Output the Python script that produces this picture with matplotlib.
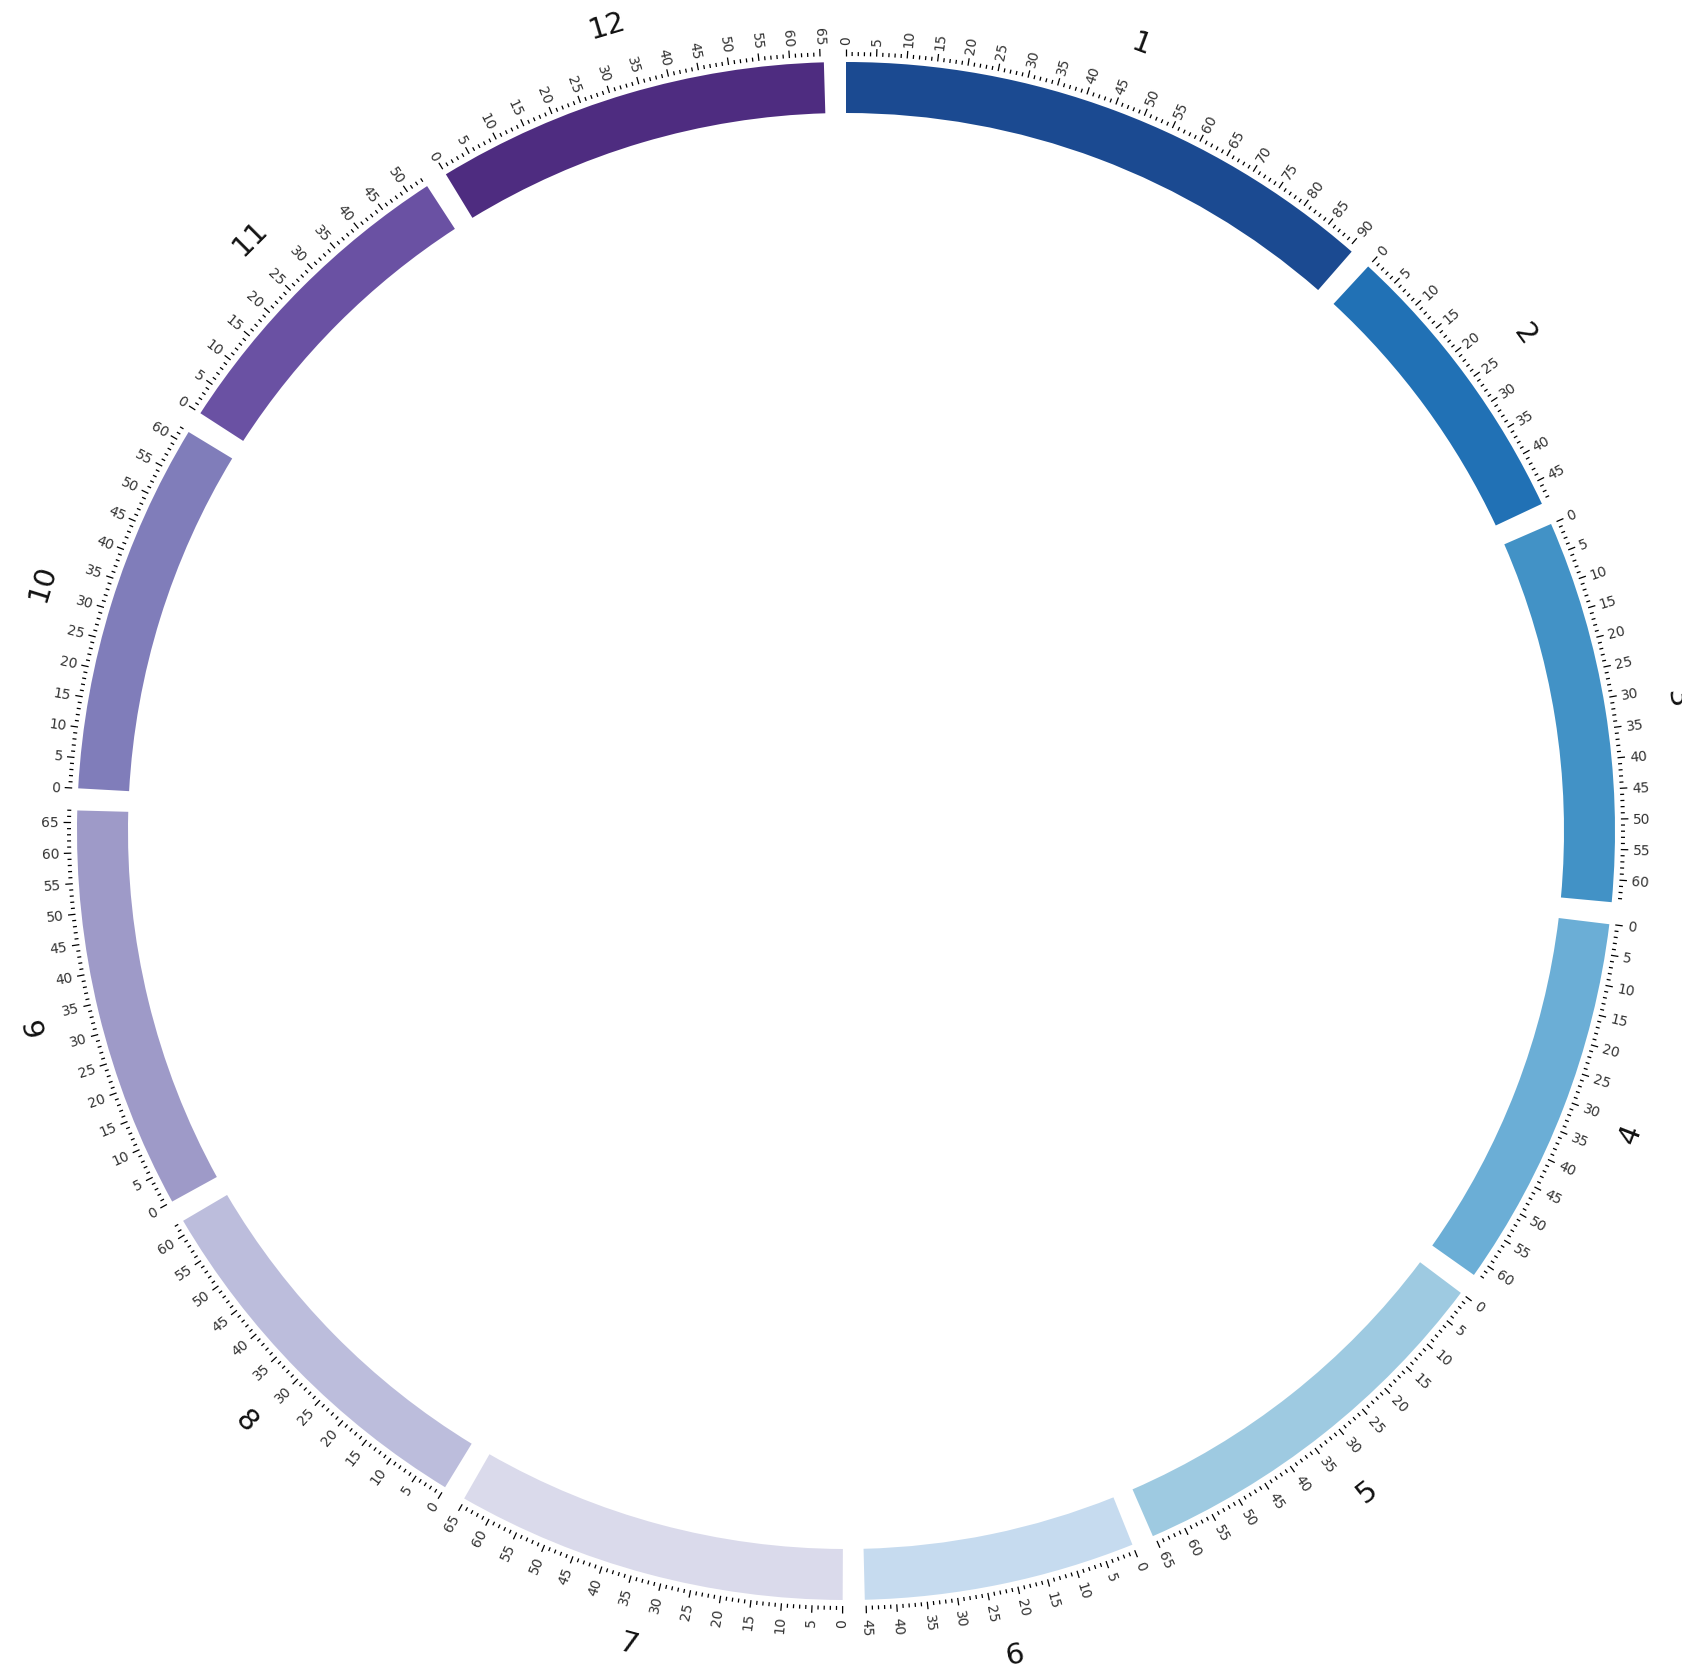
import numpy as np
import matplotlib
matplotlib.use("Agg")
import matplotlib.pyplot as plt

# chromosome names, sizes (in tick units) and colours
chrom_names = ["1", "2", "3", "4", "5", "6", "7", "8", "9", "10", "11", "12"]
chrom_sizes = [90.8, 48.7, 63.7, 62.5, 65.3, 45.2, 65.2, 62.1, 67.0, 62.0, 53.2, 65.6]
chrom_colors = ["#1b4a91", "#2171b5", "#4292c6", "#6baed6", "#9ecae1", "#c6dbef",
                "#dadaeb", "#bcbddc", "#9e9ac8", "#807dba", "#6a51a3", "#4e2c80"]

W, H = 1683, 1674
cx, cy = 846, 832          # centre of the circle, pixels from top-left
rmax = 900                 # data units == pixels

r_in, r_out = 718, 769
tick_r0, tick_minor, tick_major = 775, 779, 782.5
ticklabel_r = 787
name_r = 841
gap = np.deg2rad(1.65)

fig = plt.figure(figsize=(W / 100, H / 100), dpi=100)
ax = fig.add_axes([(cx - rmax) / W, (H - cy - rmax) / H, 2 * rmax / W, 2 * rmax / H],
                  polar=True)
ax.set_theta_zero_location("N")
ax.set_theta_direction(-1)
ax.set_ylim(0, rmax)
ax.axis("off")

unit = (2 * np.pi - gap * len(chrom_sizes)) / sum(chrom_sizes)

start = 0.0
for name, size, col in zip(chrom_names, chrom_sizes, chrom_colors):
    span = size * unit
    mid = start + span / 2
    ax.bar(mid, r_out - r_in, width=span, bottom=r_in, color=col, linewidth=0)

    # ticks every unit, longer every 5
    pos = np.arange(0, int(np.floor(size)) + 1)
    th = start + pos * unit
    major = pos % 5 == 0
    ax.vlines(th[~major], tick_r0, tick_minor, color="black", lw=0.9)
    ax.vlines(th[major], tick_r0, tick_major, color="black", lw=0.9)

    for p, t in zip(pos[major], th[major]):
        deg = np.degrees(t) % 360
        if deg <= 180:
            rot, ha = 90 - deg, "left"
        else:
            rot, ha = 270 - deg, "right"
        ax.text(t, ticklabel_r, str(p), rotation=rot, rotation_mode="anchor",
                ha=ha, va="center", fontsize=10, color="#333333")

    deg = np.degrees(mid) % 360
    if 90 < deg < 270:
        rot = 180 - deg
    else:
        rot = -deg
    ax.text(mid, name_r, name, rotation=rot, rotation_mode="anchor",
            ha="center", va="center", fontsize=21, color="#111111")

    start += span + gap

fig.savefig("out.png", dpi=100)
plt.close(fig)
